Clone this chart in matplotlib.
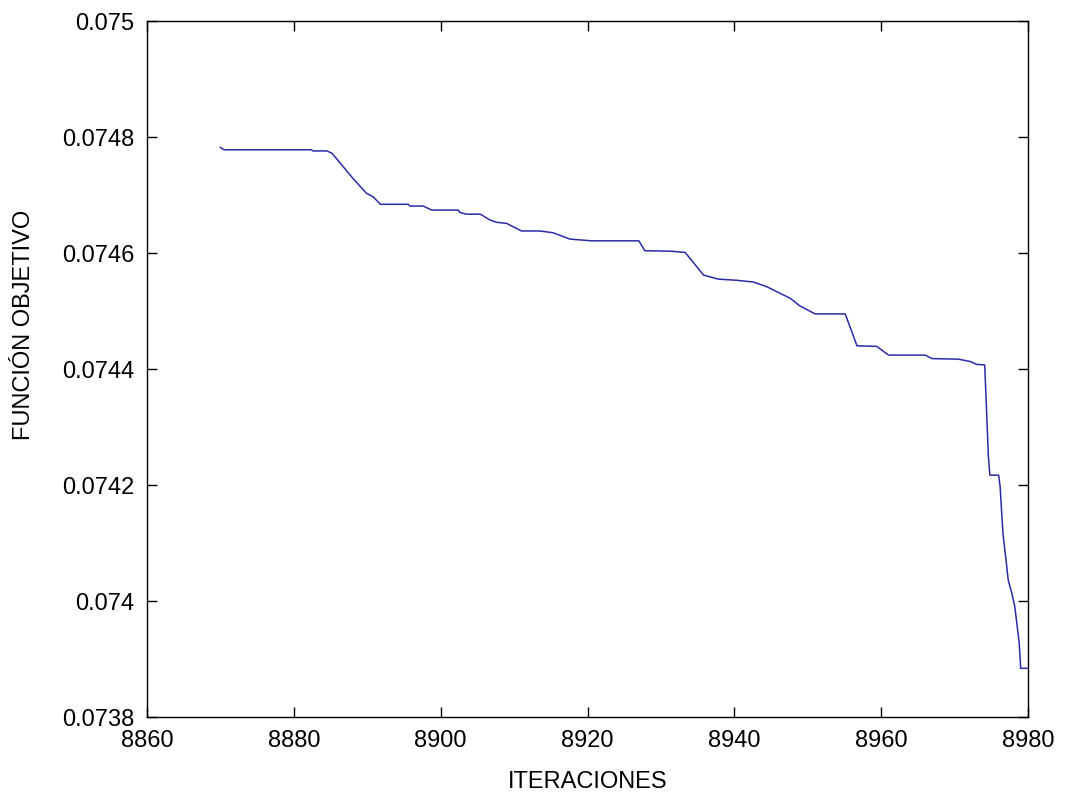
import matplotlib
matplotlib.use("Agg")
import matplotlib.pyplot as plt
from matplotlib.ticker import FixedLocator, FuncFormatter

plt.rcParams["font.family"] = ["Liberation Sans", "DejaVu Sans"]

# objective value vs iteration
iteracion = [8870.0, 8870.5, 8882.4, 8882.6, 8884.5, 8885.2, 8888.1, 8889.9, 8890.8,
             8891.8, 8895.6, 8895.8, 8897.6, 8898.8, 8902.4, 8902.6, 8903.5, 8905.4,
             8906.7, 8907.6, 8909.0, 8911.0, 8913.5, 8915.3, 8917.6, 8920.6, 8927.0,
             8927.8, 8931.5, 8933.3, 8935.8, 8937.8, 8940.3, 8942.6, 8944.4, 8947.6,
             8948.9, 8951.0, 8955.1, 8956.7, 8959.4, 8961.0, 8966.0, 8966.9, 8970.5,
             8972.1, 8973.0, 8974.1, 8974.2, 8974.4, 8974.6, 8974.8, 8976.0, 8976.2,
             8976.4, 8976.6, 8977.0, 8977.3, 8977.8, 8978.2, 8978.5, 8978.8, 8979.0,
             8980.0]
objetivo = [0.074782, 0.074778, 0.074778, 0.074776, 0.074776, 0.074772, 0.074728,
            0.074703, 0.074697, 0.074684, 0.074684, 0.074681, 0.074681, 0.074674,
            0.074674, 0.074670, 0.074667, 0.074667, 0.074657, 0.074653, 0.074651,
            0.074638, 0.074638, 0.074635, 0.074624, 0.074621, 0.074621, 0.074604,
            0.074603, 0.074601, 0.074562, 0.074555, 0.074553, 0.074550, 0.074542,
            0.074522, 0.074509, 0.074495, 0.074495, 0.074440, 0.074439, 0.074424,
            0.074424, 0.074418, 0.074417, 0.074413, 0.074408, 0.074407, 0.074375,
            0.074312, 0.074249, 0.074217, 0.074217, 0.074197, 0.074154, 0.074114,
            0.074071, 0.074036, 0.074013, 0.073990, 0.073959, 0.073927, 0.073884,
            0.073884]

xticks = [8860, 8880, 8900, 8920, 8940, 8960, 8980]
yticks = [0.0738, 0.074, 0.0742, 0.0744, 0.0746, 0.0748, 0.075]

fig = plt.figure(figsize=(10.65, 7.99), dpi=100)
ax = fig.add_axes([0.138, 0.1026, 0.8273, 0.8711])
ax.plot(iteracion, objetivo, color="#2b2ba8", lw=1.1)

ax.set_xlim(8860, 8980)
ax.set_ylim(0.0738, 0.075)
ax.xaxis.set_major_locator(FixedLocator(xticks))
ax.yaxis.set_major_locator(FixedLocator(yticks))
ax.yaxis.set_major_formatter(FuncFormatter(lambda v, p: f"{v:.4f}".rstrip("0")))
ax.tick_params(direction="in", length=7, width=1, top=True, right=True,
               labelsize=17, pad=9)
for s in ax.spines.values():
    s.set_linewidth(1)

ax.set_xlabel("ITERACIONES", fontsize=17, labelpad=14)
ax.set_ylabel("FUNCIÓN OBJETIVO", fontsize=17)
ax.yaxis.set_label_coords(-0.127, 0.563)

fig.savefig("out.png", dpi=100)
